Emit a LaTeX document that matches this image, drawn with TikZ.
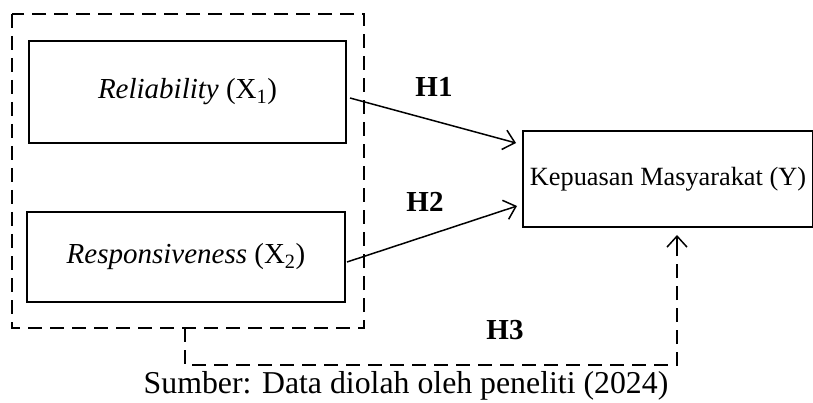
\documentclass[tikz,border=0pt]{standalone}
\usepackage{fontspec}
\setmainfont{Liberation Serif}
\usetikzlibrary{arrows.meta}
\begin{document}
\begin{tikzpicture}[x=1pt,y=-1pt,
  box/.style={draw,line width=2pt,inner sep=0pt},
  dline/.style={line width=1.8pt,dash pattern=on 14pt off 8pt},
  arr/.style={line width=1.5pt,-{Straight Barb[length=11pt,width=20pt,line width=1.5pt]}},
  lbl/.style={font=\fontsize{29}{33}\selectfont\bfseries},
  txt/.style={font=\fontsize{29}{33}\selectfont},
  ytxt/.style={font=\fontsize{26.3}{30}\selectfont},
  captxt/.style={font=\fontsize{31.8}{36}\selectfont}]
\useasboundingbox (0,0) rectangle (813,403);
\draw[dline] (12,14) rectangle (364,328);
\node[box,minimum width=317pt,minimum height=102pt,txt] (x1) at (187.5,92) {\textit{Reliability} (X\textsubscript{1})};
\node[box,minimum width=318pt,minimum height=90pt,txt] (x2) at (186,257) {\textit{Responsiveness} (X\textsubscript{2})};
\node[box,minimum width=290pt,minimum height=96pt,ytxt,anchor=west] (y) at (522,179) {Kepuasan Masyarakat (Y)};
\coordinate (grp) at (185,328);
\coordinate (c1) at (185,365);
\coordinate (c2) at (677,365);
\coordinate (ytip) at (677,235);
\draw[arr] (350,98) -- (516,143);
\draw[arr] (347,262) -- (517,206);
\draw[dline] (grp) -- (c1) -- (c2) -- (ytip);
\draw[line width=1.5pt,-{Straight Barb[length=11pt,width=20pt,line width=1.5pt]}] (677,250) -- (ytip);
\node[lbl] (h1) at (434,87) {H1};
\node[lbl] (h2) at (425,202) {H2};
\node[lbl] (h3) at (505,330) {H3};
\node[captxt] (cap) at (406,386) {Sumber: Data diolah oleh peneliti (2024)};
\end{tikzpicture}
\end{document}
